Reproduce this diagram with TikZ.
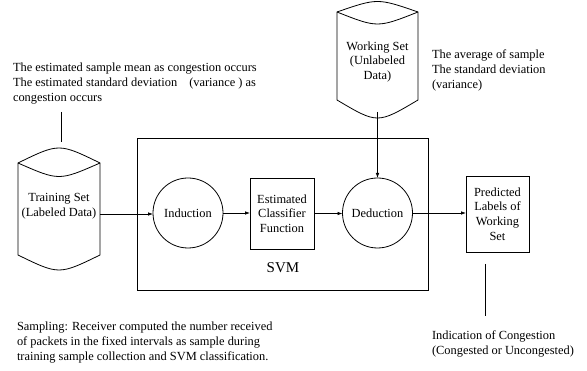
\documentclass[tikz,border=0pt]{standalone}
\usepackage{fontspec}
\setmainfont{Liberation Serif}
\usetikzlibrary{arrows.meta,calc}
\begin{document}
\begin{tikzpicture}[x=1pt,y=-1pt,line width=0.8pt,
  every node/.style={inner sep=0pt,outer sep=0pt},
  note/.style={align=left,anchor=north west,font=\fontsize{12.4}{15}\selectfont},
  lbl/.style={align=center,font=\fontsize{12.4}{14.7}\selectfont},
  body/.style={draw=none},
  circ/.style={draw,circle,minimum size=70pt,font=\fontsize{12.4}{14.7}\selectfont},
  boxn/.style={draw,align=center,font=\fontsize{12.4}{14.7}\selectfont},
  arr/.style={-{Latex[length=5pt,width=3.6pt]}}]
\useasboundingbox (0,0) rectangle (587,371);
% cylinder bodies
\node[body,minimum width=82pt,minimum height=102pt] (ts) at (59,214) {};
\node[lbl] (tst) at (59,206) {Training Set\\(Labeled Data)};
\node[body,lbl,minimum width=81pt,minimum height=100pt] (ws) at (377.5,62) {Working Set\\(Unlabeled\\Data)};
\newcommand\mycyl[4]{%
  \draw (#1.north west) .. controls ($(#1.north)+(0,-2*#2)$) .. (#1.north east)
     -- ($(#1.south east)+(0,-#4)$) .. controls ($(#1.south)+(0,#4)$) .. ($(#1.south west)+(0,-#4)$) -- cycle;
  \draw (#1.north west) .. controls ($(#1.north)+(0,2*#3)$) .. (#1.north east);}
\mycyl{ts}{10}{9}{10}
\mycyl{ws}{7}{8}{12}
% SVM box
\node[draw,minimum width=291pt,minimum height=152pt] (svm) at (282.5,214) {};
\node[font=\fontsize{15}{18}\selectfont] (svml) at (283,268) {SVM};
\node[circ] (ind) at (188,213) {Induction};
\node[boxn,minimum width=64pt,minimum height=71pt] (ecf) at (282,213.5) {Estimated\\Classifier\\Function};
\node[circ] (ded) at (377.5,213) {Deduction};
\node[boxn,minimum width=63pt,minimum height=76pt] (pl) at (497.5,214) {Predicted\\Labels of\\Working\\Set};
% arrows
\draw[arr] (ts.east) -- (ts.east -| ind.west);
\draw[arr] (ind.east) -- (ind.east -| ecf.west);
\draw[arr] (ecf.east) -- (ecf.east -| ded.west);
\draw[arr] (ws.south) -- (ded.north);
\draw[arr] (ded.east) -- (ded.east -| pl.west);
% notes
\node[note] (tl) at (13,63) {The estimated sample mean as congestion occurs\\The estimated standard deviation\hspace{12pt}(variance ) as\\congestion occurs};
\node[note] (tr) at (432,50) {The average of sample\\The standard deviation\\(variance)};
\node[note] (bl) at (17,322) {Sampling: Receiver computed the number received\\of packets in the fixed intervals as sample during\\training sample collection and SVM classification.};
\node[note] (br) at (432,331) {Indication of Congestion\\(Congested or Uncongested)};
\coordinate (a1) at (61,112);
\coordinate (a2) at (61,142);
\coordinate (b1) at (485,264);
\coordinate (b2) at (485,316);
\draw (a1) -- (a2);
\draw (b1) -- (b2);
\end{tikzpicture}
\end{document}
